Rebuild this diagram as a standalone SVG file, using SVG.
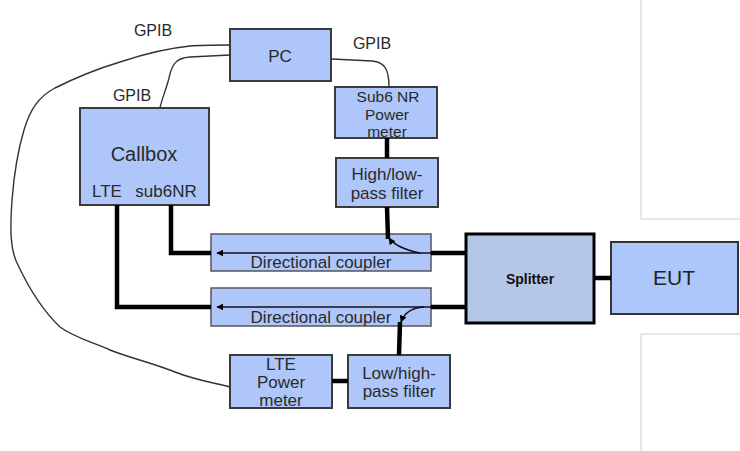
<svg xmlns="http://www.w3.org/2000/svg" width="740" height="451" viewBox="0 0 740 451">
<style>
.box{fill:#aec6f9;stroke:#3a3a3a;stroke-width:2}
.t{font-family:"Liberation Sans",Arial,sans-serif;font-size:17px;fill:#2a2a2a;text-anchor:middle}
.thick{stroke:#000;stroke-width:4.5;fill:none}
.thin{stroke:#111;stroke-width:1.5;fill:none}
.cable{stroke:#333;stroke-width:1.4;fill:none}
.frame{stroke:#d0d0d0;stroke-width:1;fill:none}
</style>
<defs>
<marker id="ae" viewBox="0 0 10 10" refX="9" refY="5" markerWidth="7" markerHeight="7" orient="auto" markerUnits="userSpaceOnUse">
<path d="M0,0 L10,5 L0,10 z" fill="#000"/>
</marker>
</defs>
<rect width="740" height="451" fill="#fff"/>
<path class="frame" d="M641,0 V219 H740 M641,451 V334 H740"/>

<text class="t" x="153" y="36" style="font-size:16px">GPIB</text>
<text class="t" x="372" y="49" style="font-size:16px">GPIB</text>
<text class="t" x="132" y="101" style="font-size:16px">GPIB</text>

<g id="pc">
<rect class="box" x="230" y="29" width="101" height="52"/>
<text class="t" x="280" y="62">PC</text>
</g>
<g id="sub6-power-meter">
<rect class="box" x="335" y="87" width="102" height="51"/>
<text class="t" x="388" y="102" style="font-size:15.5px">Sub6 NR</text>
<text class="t" x="387" y="119.5" style="font-size:15.5px">Power</text>
<text class="t" x="387" y="137" style="font-size:15.5px">meter</text>
</g>
<g id="high-low-filter">
<rect class="box" x="336" y="158" width="102" height="49"/>
<text class="t" x="387" y="180">High/low-</text>
<text class="t" x="387" y="199">pass filter</text>
</g>
<g id="callbox">
<rect class="box" x="80" y="108" width="129" height="97"/>
<text class="t" x="144" y="161" style="font-size:20px">Callbox</text>
<text class="t" x="107" y="197">LTE</text>
<text class="t" x="166" y="197">sub6NR</text>
</g>
<g id="coupler-top">
<rect class="box" x="211" y="234" width="220" height="37" style="stroke:#555;stroke-width:1.5"/>
<text class="t" x="321" y="268">Directional coupler</text>
</g>
<g id="coupler-bottom">
<rect class="box" x="211" y="288" width="220" height="38" style="stroke:#555;stroke-width:1.5"/>
<text class="t" x="321" y="323">Directional coupler</text>
</g>
<g id="lte-power-meter">
<rect class="box" x="230" y="355" width="102" height="53"/>
<text class="t" x="281" y="370">LTE</text>
<text class="t" x="281" y="388">Power</text>
<text class="t" x="281" y="406">meter</text>
</g>
<g id="low-high-filter">
<rect class="box" x="348" y="355" width="102" height="53"/>
<text class="t" x="399" y="379">Low/high-</text>
<text class="t" x="399" y="397">pass filter</text>
</g>
<g id="splitter">
<rect x="466" y="234" width="128" height="89" fill="#b4c7e7" stroke="#000" stroke-width="3"/>
<text x="530" y="284" font-family="'Liberation Sans',Arial,sans-serif" font-size="14" font-weight="bold" text-anchor="middle" fill="#111">Splitter</text>
</g>
<g id="eut">
<rect x="611" y="242" width="127" height="72" fill="#adc6fc" stroke="#333" stroke-width="2"/>
<text x="674" y="285" font-family="'Liberation Sans',Arial,sans-serif" font-size="21" text-anchor="middle" fill="#222">EUT</text>
</g>

<g id="connectors">
<path class="cable" d="M230,45 C215,45 200,45 190,46 C170,48 150,52 120,62 C100,68 75,78 55,88 C38,97 30,110 24,130 C18,150 14,175 12,200 C10,230 10,250 18,265 C26,282 40,308 60,327 C75,338 95,343 110,350 C130,358 150,362 175,372 C195,380 215,383 230,387"/>
<path class="cable" d="M230,55 L190,57 C176,58 172,64 169,78 C166,90 162,98 160,108"/>
<path class="cable" d="M332,59 L372,61 C385,62 389,70 389,87"/>
<path class="thick" d="M387,138 V158"/>
<path class="thick" d="M171,205 V253 H211"/>
<path class="thick" d="M117,205 V307 H211"/>
<path class="thin" d="M431,253 H217" marker-end="url(#ae)"/>
<path class="thin" d="M431,307 H217" marker-end="url(#ae)"/>
<path class="thick" d="M431,253 H466 M431,307 H466"/>
<path class="thin" d="M420,253 Q396,248 389,238" marker-end="url(#ae)"/>
<path class="thick" d="M388,239 L387,207"/>
<path class="thin" d="M424,307 Q406,308 401,322" marker-end="url(#ae)"/>
<path class="thick" d="M400,322 L399,355"/>
<path class="thick" d="M332,381 H348"/>
<path class="thick" d="M594,278 H611"/>
</g>
</svg>
